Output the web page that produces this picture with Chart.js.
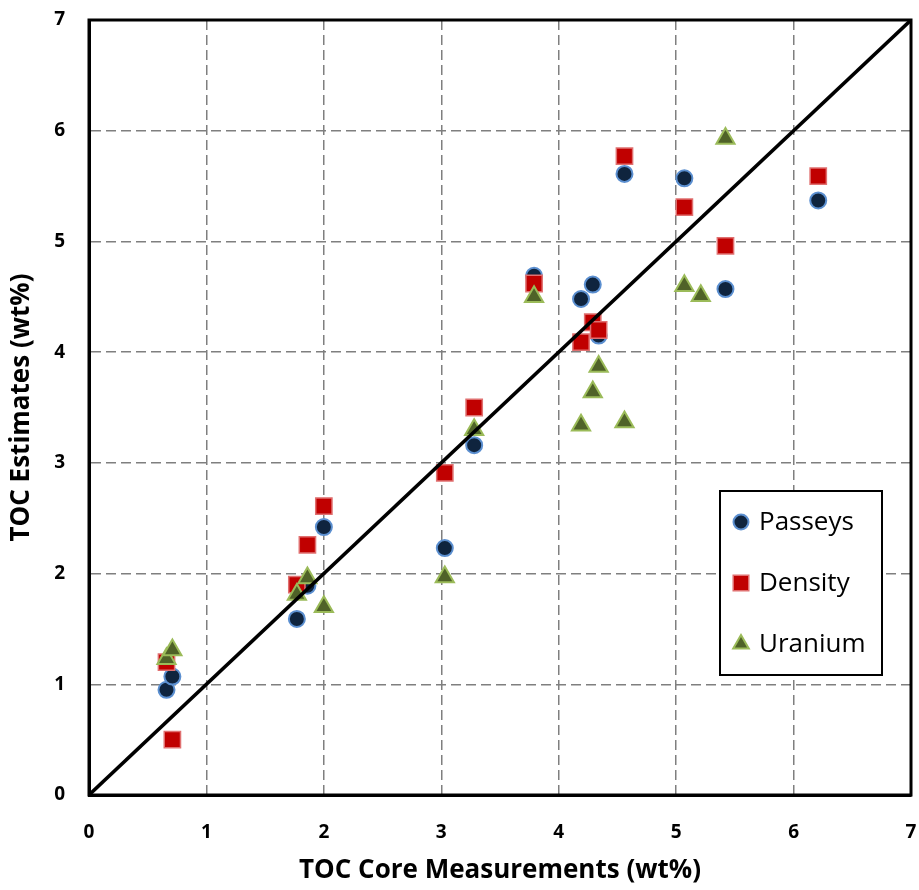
<!DOCTYPE html>
<html>
<head>
<meta charset="utf-8">
<script src="https://cdn.jsdelivr.net/npm/chart.js@4.4.1/dist/chart.umd.min.js"></script>
<style>
html,body{margin:0;padding:0;background:#fff;}
#wrap{width:919px;height:890px;position:relative;}
</style>
</head>
<body>
<div id="wrap"><canvas id="c" width="919" height="890"></canvas></div>
<script>
// Data
const passeysX = [0.66, 0.71, 1.77, 1.86, 2.00, 3.03, 3.28, 3.79, 4.19, 4.29, 4.34, 4.56, 5.07, 5.42, 6.21];
const passeysY = [0.95, 1.07, 1.59, 1.89, 2.42, 2.23, 3.16, 4.69, 4.48, 4.61, 4.15, 5.61, 5.57, 4.57, 5.37];

const densityX = [0.66, 0.71, 1.77, 1.86, 2.00, 3.03, 3.28, 3.79, 4.19, 4.29, 4.34, 4.56, 5.07, 5.42, 6.21];
const densityY = [1.20, 0.50, 1.90, 2.26, 2.61, 2.91, 3.50, 4.62, 4.09, 4.27, 4.20, 5.77, 5.31, 4.96, 5.59];

const uraniumX = [0.66, 0.71, 1.77, 1.86, 2.00, 3.03, 3.28, 3.79, 4.19, 4.29, 4.34, 4.56, 5.07, 5.21, 5.42];
const uraniumY = [1.23, 1.31, 1.81, 1.96, 1.70, 1.97, 3.30, 4.50, 3.34, 3.64, 3.87, 3.37, 4.60, 4.51, 5.93];

const lineX = [0, 7];
const lineY = [0, 7];

const seriesNames = ["Passeys", "Density", "Uranium"];
const xTitle = "TOC Core Measurements (wt%)";
const yTitle = "TOC Estimates (wt%)";
const axisMin = 0, axisMax = 7;

const pts = (xs, ys) => xs.map((x, i) => ({x: x, y: ys[i]}));

const frameAndLegend = {
  id: 'frameAndLegend',
  afterDraw(chart) {
    const ctx = chart.ctx;
    const a = chart.chartArea;
    ctx.save();
    ctx.strokeStyle = '#000';
    ctx.lineWidth = 3;
    ctx.strokeRect(a.left, a.top, a.right - a.left, a.bottom - a.top);
    // legend box
    const bx = 720, by = 491, bw = 162, bh = 184;
    ctx.fillStyle = '#fff';
    ctx.fillRect(bx, by, bw, bh);
    ctx.lineWidth = 2;
    ctx.strokeStyle = '#000';
    ctx.strokeRect(bx, by, bw, bh);
    [0, 1, 2].forEach((k, i) => {
      const ds = chart.data.datasets.find(d => d.label === seriesNames[k]);
      const cy = by + 31 + i * 61;
      const cx = bx + 21;
      const opts = {pointStyle: ds.pointStyle, radius: ds.legendRadius, borderWidth: ds.borderWidth, rotation: 0};
      ctx.fillStyle = ds.backgroundColor;
      ctx.strokeStyle = ds.borderColor;
      ctx.lineWidth = ds.borderWidth;
      Chart.helpers.drawPoint(ctx, opts, cx, cy);
      ctx.fillStyle = '#000';
      ctx.font = '26px "Open Sans", sans-serif';
      ctx.textBaseline = 'middle';
      ctx.textAlign = 'left';
      ctx.fillText(ds.label, bx + 39, cy + 1);
    });
    ctx.restore();
  }
};

new Chart(document.getElementById('c'), {
  type: 'scatter',
  data: {
    datasets: [
      {
        type: 'line', label: 'oneToOne', data: pts(lineX, lineY),
        borderColor: '#000', borderWidth: 3.5, pointRadius: 0, order: 0, fill: false
      },
      {
        label: seriesNames[2], data: pts(uraniumX, uraniumY), order: 1,
        pointStyle: 'triangle', pointRadius: 10.5, legendRadius: 9,
        backgroundColor: '#4F6228', borderColor: '#9BBB59', borderWidth: 2
      },
      {
        label: seriesNames[1], data: pts(densityX, densityY), order: 2,
        pointStyle: 'rect', pointRadius: 11.5, legendRadius: 11,
        backgroundColor: '#C00000', borderColor: '#E07070', borderWidth: 1.5
      },
      {
        label: seriesNames[0], data: pts(passeysX, passeysY), order: 3,
        pointStyle: 'circle', pointRadius: 8, legendRadius: 7.5,
        backgroundColor: '#0F243E', borderColor: '#5B8FD0', borderWidth: 2
      }
    ]
  },
  options: {
    responsive: false,
    animation: false,
    events: [],
    layout: {autoPadding: false, padding: {top: 20, right: 8, left: 0, bottom: 0}},
    plugins: {legend: {display: false}, tooltip: {enabled: false}},
    scales: {
      x: {
        type: 'linear', min: axisMin, max: axisMax,
        afterFit: s => { s.height = 95; s.paddingLeft = 0; s.paddingRight = 0; },
        ticks: {stepSize: 1, padding: 26, color: '#000', font: {family: '"Open Sans", sans-serif', size: 19, weight: 'bold'}},
        grid: {color: '#7F7F7F', lineWidth: 1.5, drawTicks: false},
        border: {display: true, color: '#000', width: 3, dash: [10, 5]},
        title: {display: true, text: xTitle, color: '#000', font: {family: '"Open Sans", sans-serif', size: 26, weight: 'bold'}, padding: {top: 5}}
      },
      y: {
        type: 'linear', min: axisMin, max: axisMax,
        afterFit: s => { s.width = 89; s.paddingTop = 0; s.paddingBottom = 0; },
        ticks: {stepSize: 1, padding: 24, color: '#000', font: {family: '"Open Sans", sans-serif', size: 19, weight: 'bold'}},
        grid: {color: '#7F7F7F', lineWidth: 1.5, drawTicks: false},
        border: {display: true, color: '#000', width: 3, dash: [10, 5]},
        title: {display: true, text: yTitle, color: '#000', font: {family: '"Open Sans", sans-serif', size: 26, weight: 'bold'}, padding: {top: 6, bottom: 0}}
      }
    }
  },
  plugins: [frameAndLegend]
});
</script>
</body>
</html>
